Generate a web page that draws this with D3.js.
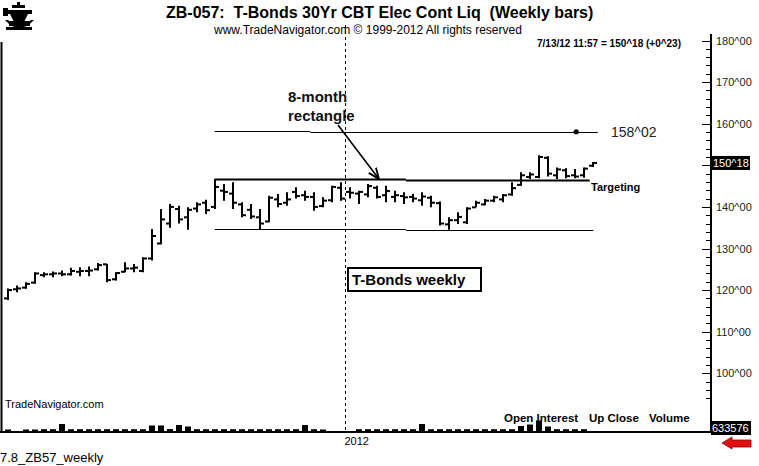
<!DOCTYPE html>
<html><head><meta charset="utf-8">
<script src="https://cdn.jsdelivr.net/npm/d3@7"></script>
<style>
html,body{margin:0;padding:0;background:#fff;}
svg{display:block;font-family:Arial,"Liberation Sans",sans-serif;}
</style></head>
<body>
<svg id="chart" width="759" height="466"></svg>
<script>
// ---------- DATA ----------
const weeks = [
"2011-04-15","2011-04-22","2011-04-29","2011-05-06","2011-05-13","2011-05-20","2011-05-27",
"2011-06-03","2011-06-10","2011-06-17","2011-06-24","2011-07-01","2011-07-08","2011-07-15",
"2011-07-22","2011-07-29","2011-08-05","2011-08-12","2011-08-19","2011-08-26","2011-09-02",
"2011-09-09","2011-09-16","2011-09-23","2011-09-30","2011-10-07","2011-10-14","2011-10-21",
"2011-10-28","2011-11-04","2011-11-11","2011-11-18","2011-11-25","2011-12-02","2011-12-09",
"2011-12-16","2011-12-23","2011-12-30","2012-01-06","2012-01-13","2012-01-20","2012-01-27",
"2012-02-03","2012-02-10","2012-02-17","2012-02-24","2012-03-02","2012-03-09","2012-03-16",
"2012-03-23","2012-03-30","2012-04-06","2012-04-13","2012-04-20","2012-04-27","2012-05-04",
"2012-05-11","2012-05-18","2012-05-25","2012-06-01","2012-06-08","2012-06-15","2012-06-22",
"2012-06-29","2012-07-06","2012-07-13"];
const opens  = [118.0,120.2,120.6,121.8,123.6,123.8,124.0,123.8,124.4,124.6,125.0,126.2,122.6,124.4,125.2,124.6,
                127.6,131.2,136.0,139.5,137.5,139.6,141.0,140.0,143.9,143.2,140.6,139.3,137.5,136.5,141.8,141.0,
                143.6,142.8,142.4,140.2,141.6,144.6,143.6,143.2,143.0,144.6,142.8,142.4,142.6,142.4,141.6,142.2,
                140.9,135.8,136.8,136.3,139.9,140.6,141.5,141.8,143.0,145.3,147.2,147.2,151.8,147.6,148.8,147.6,
                147.6,149.9];
const highs  = [120.4,121.1,121.9,124.3,124.3,124.5,124.7,125.4,125.5,125.7,126.5,126.3,124.3,126.7,126.3,127.9,
                134.7,139.5,140.7,140.3,139.9,141.1,141.7,146.7,145.5,145.9,141.1,140.7,139.5,142.7,143.1,143.5,
                144.7,143.9,143.5,142.3,145.1,145.9,144.7,143.9,145.5,145.1,145.1,143.9,143.5,143.1,143.5,142.7,
                141.3,137.5,138.7,139.9,141.5,141.9,142.7,143.1,145.9,148.3,148.3,152.4,152.2,149.5,149.3,149.1,
                149.5,150.8];
const lows   = [117.6,119.5,120.3,121.5,123.1,123.1,123.3,123.5,123.3,123.3,124.7,121.9,122.3,124.3,124.3,124.3,
                127.1,131.0,135.0,136.0,134.5,138.7,138.3,139.5,141.5,139.5,137.5,137.1,134.7,136.3,139.9,140.3,
                142.0,141.5,139.1,139.9,141.1,141.5,142.0,140.7,142.3,142.0,141.1,141.1,140.7,141.1,140.3,139.9,
                135.5,134.5,135.9,135.9,139.9,140.4,141.1,141.1,142.7,145.1,146.7,146.9,147.3,146.7,146.9,146.9,
                147.0,149.6];
const closes = [120.0,120.4,121.5,124.0,123.8,124.0,123.8,124.6,124.6,124.7,126.0,122.4,124.1,125.2,125.4,127.6,
                133.0,137.0,140.0,137.0,139.3,140.6,139.2,144.8,143.6,141.0,138.0,137.7,136.0,142.2,140.7,141.8,
                142.6,142.4,140.0,141.5,144.8,142.0,143.4,143.6,145.0,142.4,143.8,142.8,142.3,142.0,142.5,141.0,
                136.0,136.8,137.6,139.6,141.0,141.5,142.3,142.8,144.5,147.6,147.8,152.0,148.0,149.0,147.4,147.3,
                149.2,150.5625];
const volumes = [250,0,250,250,280,280,800,280,280,280,280,280,280,280,280,280,
                 650,650,300,700,550,280,280,280,280,280,280,280,280,280,280,280,
                 280,700,280,250,0,0,0,280,280,280,280,280,280,280,800,280,
                 280,280,280,280,280,280,280,280,280,600,750,1150,550,280,280,280,
                 280,0];
const priceTicks = [100,110,120,130,140,150,160,170,180];
const tickLabels = ["100^00","110^00","120^00","130^00","140^00","150^00","160^00","170^00","180^00"];
const lastPriceLabel = "150^18";
const lastVolumeLabel = "633576";
const targetPrice = 158.0625;
const targetLabel = "158^02";
// rectangle & target levels
const levelStart = [23, 44.2, 23, 44.2, 23, 33.6];
const levelEnd   = [44.2, 64.6, 44.2, 65.0, 33.6, 65.5];
const levelPrice = [146.75, 146.5, 134.7, 134.55, 158.35, 158.06];
const levelWidth = [2, 2, 1, 1, 1, 1];
const legendItems = ["Open Interest", "Up Close", "Volume"];

// ---------- SCALES ----------
const svg = d3.select("#chart");
const x = d3.scalePoint().domain(weeks).range([7.5, 593.3]);
const xi = d3.scaleLinear().domain([0, weeks.length - 1]).range(x.range());
const y = d3.scaleLinear().domain([100, 180]).range([373.3, 40.5]);
const yv = d3.scaleLinear().domain([0, 1000]).range([432, 422]);
const axisX = 711, baseY = 432;
const lastClose = closes[closes.length - 1];

// ---------- HEADER ----------
const logo = svg.append("g").attr("fill", "#000");
logo.append("rect").attr("x", 17).attr("y", 2).attr("width", 3).attr("height", 6);
logo.append("rect").attr("x", 12).attr("y", 5).attr("width", 13).attr("height", 3);
logo.append("rect").attr("x", 6).attr("y", 10).attr("width", 26).attr("height", 4);
logo.append("rect").attr("x", 3).attr("y", 8).attr("width", 5).attr("height", 8);
logo.append("path").attr("d", "M10,14 L28,14 L24,22 L14,22 Z");
logo.append("path").attr("d", "M5,20 Q19,36 34,20 L31,20 Q19,30 8,20 Z");
logo.append("rect").attr("x", 9).attr("y", 21).attr("width", 21).attr("height", 5);
logo.append("rect").attr("x", 6).attr("y", 27).attr("width", 26).attr("height", 3);

svg.append("text").attr("x", 166).attr("y", 18).attr("font-size", 16).attr("font-weight", "bold")
  .style("white-space", "pre").text("ZB-057:  T-Bonds 30Yr CBT Elec Cont Liq  (Weekly bars)");
svg.append("text").attr("x", 214).attr("y", 34).attr("font-size", 12)
  .text("www.TradeNavigator.com \u00A9 1999-2012 All rights reserved");
svg.append("text").attr("x", 537).attr("y", 47).attr("font-size", 10).attr("font-weight", "bold")
  .text("7/13/12 11:57 = 150^18 (+0^23)");

// ---------- FRAME ----------
svg.append("line").attr("x1", 1.5).attr("x2", 1.5).attr("y1", 42).attr("y2", baseY).attr("stroke", "#000").attr("stroke-width", 2);
svg.append("line").attr("x1", 0).attr("x2", axisX).attr("y1", baseY).attr("y2", baseY).attr("stroke", "#000").attr("stroke-width", 2);
svg.append("line").attr("x1", axisX).attr("x2", axisX).attr("y1", 34).attr("y2", baseY + 1).attr("stroke", "#000").attr("stroke-width", 2);

// year divider
const firstNewYear = weeks.findIndex(w => w.startsWith("2012"));
const divX = Math.round(xi(firstNewYear - 0.5)) + 0.5;
svg.append("line").attr("x1", divX).attr("x2", divX).attr("y1", 25).attr("y2", baseY)
  .attr("stroke", "#000").attr("stroke-dasharray", "3,3");
svg.append("text").attr("x", divX - 1).attr("y", 445).attr("font-size", 11).text("2012");

// ---------- RIGHT AXIS ----------
const minorTicks = d3.range(94, 181, 2).filter(v => v % 10 !== 0);
svg.selectAll("line.minor").data(minorTicks).join("line").attr("class", "minor")
  .attr("x1", axisX - 5).attr("x2", axisX).attr("y1", d => Math.round(y(d)) + 0.5).attr("y2", d => Math.round(y(d)) + 0.5)
  .attr("stroke", "#000");
svg.selectAll("line.major").data(priceTicks).join("line").attr("class", "major")
  .attr("x1", axisX - 9).attr("x2", axisX).attr("y1", d => Math.round(y(d)) + 0.5).attr("y2", d => Math.round(y(d)) + 0.5)
  .attr("stroke", "#000");
// labels hidden behind the last-price box are not drawn
const visibleTicks = priceTicks.filter(d => Math.abs(y(d) - y(lastClose)) > 12);
svg.selectAll("text.tick").data(visibleTicks).join("text").attr("class", "tick")
  .attr("x", 716).attr("y", d => y(d) + 4).attr("font-size", 11).attr("fill", "#222")
  .text(d => tickLabels[priceTicks.indexOf(d)]);

// last price box
const lastY = y(lastClose);
svg.append("rect").attr("x", axisX).attr("y", lastY - 7).attr("width", 39).attr("height", 14).attr("fill", "#000");
svg.append("text").attr("x", axisX + 2).attr("y", lastY + 4).attr("font-size", 11).attr("fill", "#fff").text(lastPriceLabel);

// volume label box + red arrow
svg.append("rect").attr("x", axisX).attr("y", 421).attr("width", 40).attr("height", 14).attr("fill", "#000");
svg.append("text").attr("x", axisX + 1).attr("y", 432).attr("font-size", 11).attr("fill", "#fff").text(lastVolumeLabel);
svg.append("path").attr("d", "M722,443 L732,437 L732,440 L751,440 L751,447 L732,447 L732,449 Z")
  .attr("fill", "#e01010").attr("stroke", "#900").attr("stroke-width", 0.8);

// ---------- LEVEL LINES ----------
svg.selectAll("line.level").data(levelPrice).join("line").attr("class", "level")
  .attr("x1", (d, i) => xi(levelStart[i])).attr("x2", (d, i) => xi(levelEnd[i]))
  .attr("y1", d => Math.round(y(d)) + 0.5).attr("y2", d => Math.round(y(d)) + 0.5)
  .attr("stroke", "#000").attr("stroke-width", (d, i) => levelWidth[i]);

// target dot and label
svg.append("circle").attr("cx", xi(63.1)).attr("cy", y(targetPrice)).attr("r", 2.6).attr("fill", "#000");
svg.append("text").attr("x", 611).attr("y", y(targetPrice) + 5).attr("font-size", 14).attr("fill", "#222").text(targetLabel);
svg.append("text").attr("x", 591).attr("y", 191).attr("font-size", 11).attr("font-weight", "bold").text("Targeting");

// ---------- OHLC BARS ----------
const bars = svg.append("g").attr("stroke", "#000").attr("stroke-width", 2);
weeks.forEach((w, i) => {
  const cx = Math.round(x(w));
  bars.append("line").attr("x1", cx).attr("x2", cx).attr("y1", y(highs[i])).attr("y2", y(lows[i]));
  bars.append("line").attr("x1", cx - 4).attr("x2", cx).attr("y1", y(opens[i])).attr("y2", y(opens[i]));
  bars.append("line").attr("x1", cx).attr("x2", cx + 4).attr("y1", y(closes[i])).attr("y2", y(closes[i]));
});

// ---------- VOLUME ----------
svg.selectAll("rect.vol").data(volumes).join("rect").attr("class", "vol")
  .attr("x", (d, i) => Math.round(x(weeks[i])) - 3).attr("width", 6)
  .attr("y", d => yv(d)).attr("height", d => baseY - yv(d)).attr("fill", "#000");

// ---------- ANNOTATIONS ----------
svg.append("defs").append("marker").attr("id", "ah").attr("viewBox", "0 0 10 10").attr("refX", 9).attr("refY", 5)
  .attr("markerWidth", 7).attr("markerHeight", 7).attr("orient", "auto")
  .append("path").attr("d", "M0,1 L10,5 L0,9").attr("fill", "none").attr("stroke", "#000").attr("stroke-width", 1.6);
svg.append("line").attr("x1", xi(36.67)).attr("y1", y(159.7)).attr("x2", xi(41.15)).attr("y2", y(146.9))
  .attr("stroke", "#000").attr("stroke-width", 1.6).attr("marker-end", "url(#ah)");
svg.append("text").attr("x", 288).attr("y", 102).attr("font-size", 15).attr("font-weight", "bold").attr("fill", "#111").text("8-month");
svg.append("text").attr("x", 288).attr("y", 121).attr("font-size", 15).attr("font-weight", "bold").attr("fill", "#111").text("rectangle");

svg.append("rect").attr("x", 348).attr("y", 268).attr("width", 133).attr("height", 23)
  .attr("fill", "#fff").attr("stroke", "#000").attr("stroke-width", 2);
svg.append("text").attr("x", 352).attr("y", 285).attr("font-size", 15).attr("font-weight", "bold").text("T-Bonds weekly");

svg.append("text").attr("x", 5).attr("y", 408).attr("font-size", 11).text("TradeNavigator.com");
const legendX = [504, 589, 649];
svg.selectAll("text.legend").data(legendItems).join("text").attr("class", "legend")
  .attr("x", (d, i) => legendX[i]).attr("y", 422).attr("font-size", 11.5).attr("font-weight", "bold").text(d => d);
svg.append("text").attr("x", 0).attr("y", 462).attr("font-size", 13).text("7.8_ZB57_weekly");
</script>
</body></html>
